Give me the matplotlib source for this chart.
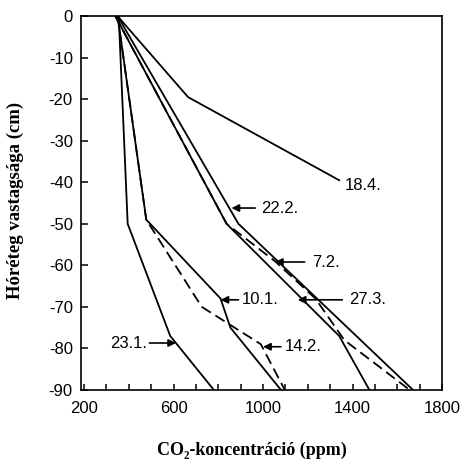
import matplotlib
matplotlib.use("Agg")
import matplotlib.pyplot as plt
from matplotlib.ticker import MultipleLocator

plt.rcParams["axes.unicode_minus"] = False

# CO2 koncentráció (ppm) és hóréteg mélység (cm) görbénként
x_184 = [350, 665, 1340]
y_184 = [0, -19.5, -39.5]

x_222 = [350, 890, 1670]
y_222 = [0, -50, -90]

x_273 = [340, 837, 1340, 1475]
y_273 = [0, -50, -77, -90]

x_72 = [340, 837, 1053, 1234, 1363, 1655]
y_72 = [0, -50, -59, -68, -78, -90]

x_101 = [350, 478, 810, 854, 1080]
y_101 = [0, -49, -68, -75, -90]

x_142 = [350, 478, 726, 990, 1097]
y_142 = [0, -49, -70, -79, -90]

x_231 = [355, 395, 585, 780]
y_231 = [0, -50, -77, -90]

x_ticks = [200, 600, 1000, 1400, 1800]

# címkék: szöveg, szöveg x, y, nyíl vége, nyíl hegye
lab_text = ["22.2.", "7.2.", "27.3.", "10.1.", "14.2.", "23.1."]
lab_x = [991, 1221, 1385, 903, 1097, 483]
lab_y = [-46.2, -59.2, -68.3, -68.3, -79.6, -78.7]
tail_x = [965, 1186, 1354, 890, 1080, 492]
tip_x = [859, 1053, 1155, 810, 1000, 611]

fig = plt.figure(figsize=(4.61, 4.62), dpi=100)
ax = fig.add_axes([0.176, 0.156, 0.783, 0.809])

lw = 1.3
dash = (0, (6, 3))
ax.plot(x_184, y_184, color="black", lw=lw)
ax.plot(x_222, y_222, color="black", lw=lw)
ax.plot(x_273, y_273, color="black", lw=lw)
ax.plot(x_72, y_72, color="black", lw=lw, linestyle=dash)
ax.plot(x_101, y_101, color="black", lw=lw)
ax.plot(x_142, y_142, color="black", lw=lw, linestyle=dash)
ax.plot(x_231, y_231, color="black", lw=lw)

lab_font = dict(family=["Liberation Sans", "DejaVu Sans"], size=12)
ax.text(1367, -40.7, "18.4.", ha="left", va="center", **lab_font)
for t, lx, ly, tx, px in zip(lab_text, lab_x, lab_y, tail_x, tip_x):
    ha = "right" if t == "23.1." else "left"
    ax.text(lx, ly, t, ha=ha, va="center", **lab_font)
    ax.annotate("", xy=(px, ly), xytext=(tx, ly),
                arrowprops=dict(arrowstyle="-|>", color="black", lw=1.2,
                                mutation_scale=11, shrinkA=0, shrinkB=0))

ax.set_xlim(187, 1800)
ax.set_ylim(-90, 0)
ax.set_xticks(x_ticks)
ax.xaxis.set_minor_locator(MultipleLocator(100))
ax.yaxis.set_major_locator(MultipleLocator(10))
ax.tick_params(axis="both", direction="in", labelsize=12, width=1.1)
ax.tick_params(axis="y", length=5, pad=6)
ax.tick_params(axis="x", which="major", length=4, pad=8)
ax.tick_params(axis="x", which="minor", length=4, width=1.1, direction="in")
for lbl in ax.get_xticklabels() + ax.get_yticklabels():
    lbl.set_family(["Liberation Sans", "DejaVu Sans"])
for s in ax.spines.values():
    s.set_linewidth(1.2)

serif = ["Liberation Serif", "DejaVu Serif"]
fig.text(15 / 461, 1 - 200 / 462, "Hóréteg vastagsága (cm)", rotation=90,
         ha="center", va="center", family=serif, weight="bold", size=13.5)
fig.text(252 / 461, 1 - 450 / 462, "CO₂-koncentráció (ppm)",
         ha="center", va="center", family=serif, weight="bold", size=13)

fig.savefig("out.png", dpi=100)
